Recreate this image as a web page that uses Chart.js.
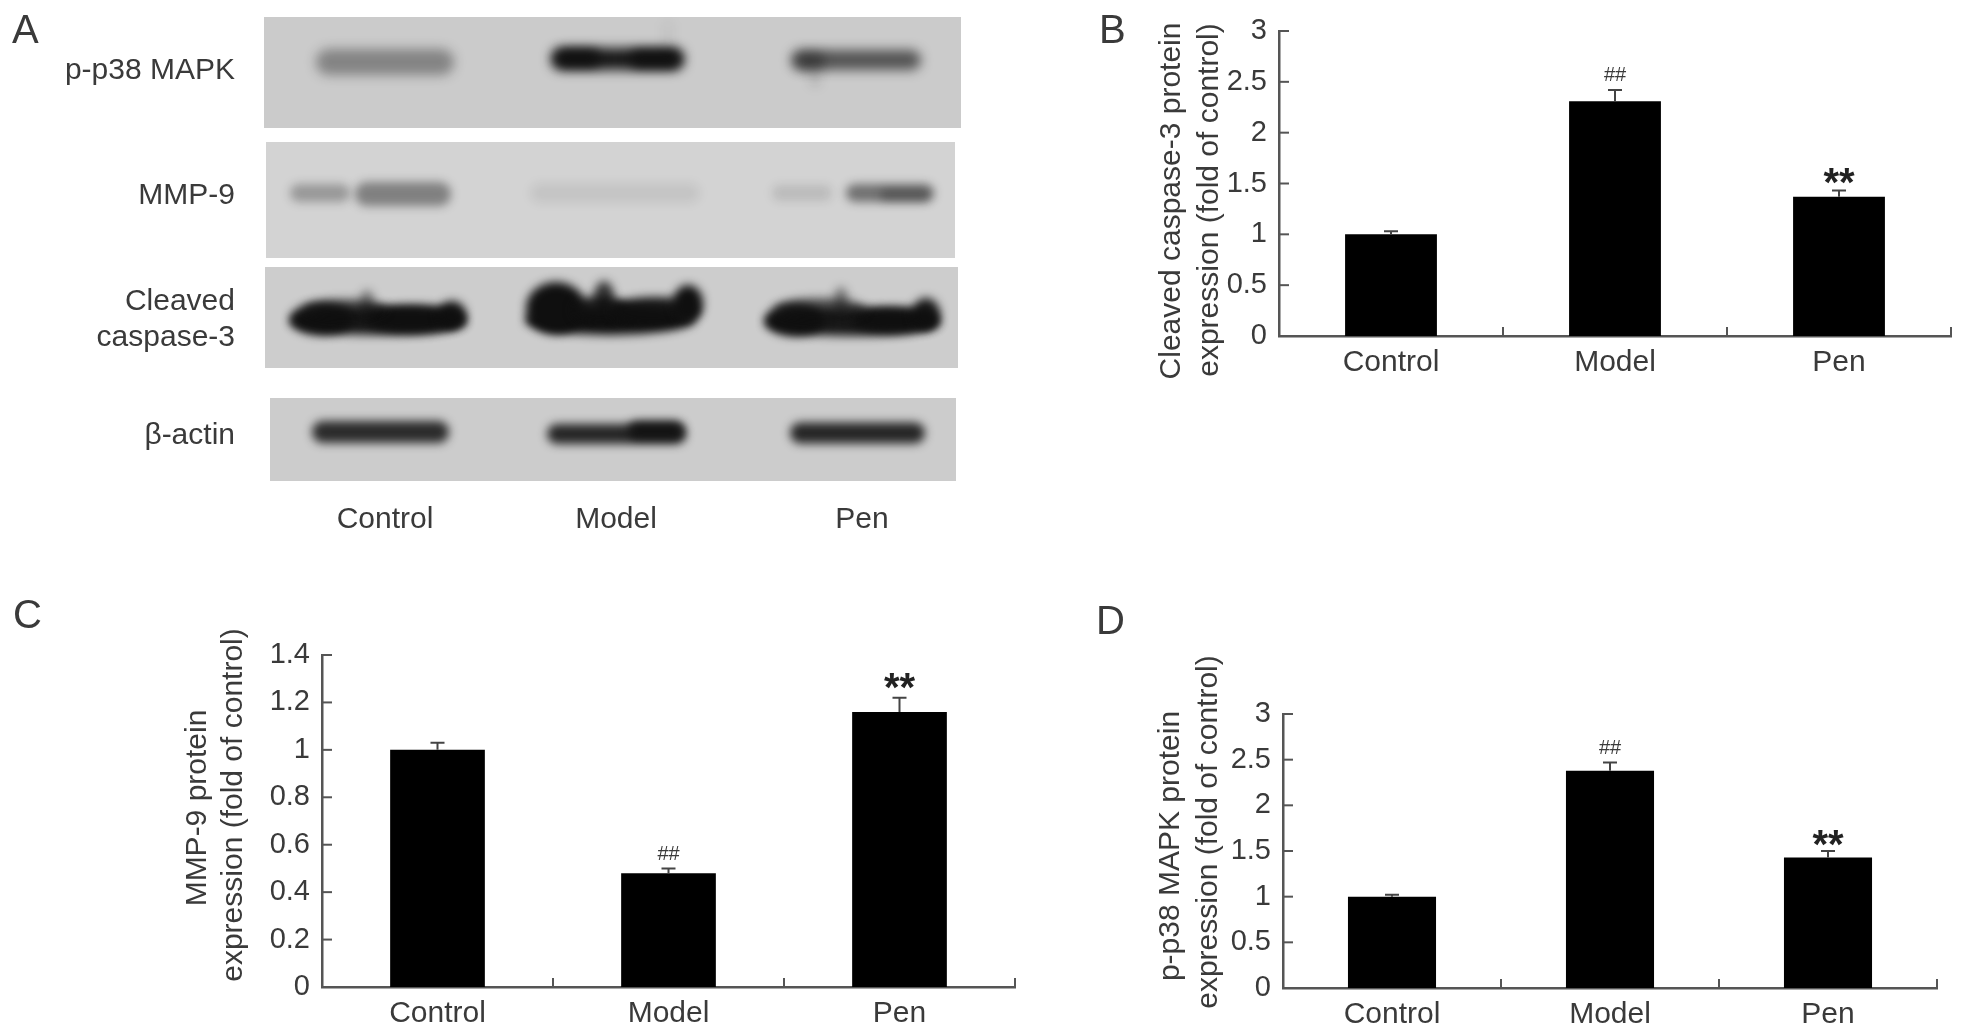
<!DOCTYPE html>
<html>
<head>
<meta charset="utf-8">
<title>Western blot and protein expression</title>
<script src="https://cdn.jsdelivr.net/npm/chart.js@4/dist/chart.umd.min.js"></script>
<style>
  html, body { margin: 0; padding: 0; background: #fff; width: 1968px; height: 1036px; overflow: hidden; }
  canvas { position: absolute; filter: blur(0.6px); }
  .txt { position: absolute; font-family: "Liberation Sans", Arial, sans-serif; font-size: 30px; line-height: 34px; color: #3a3a3a; white-space: nowrap; filter: blur(0.4px); }
  .letter { font-size: 40px; line-height: 40px; }
  .row { text-align: right; width: 220px; left: 15px; }
  .lane { transform: translateX(-50%); }
</style>
</head>
<body>
<canvas id="blotCanvas" width="720" height="490" style="left:250px;top:5px"></canvas>
<canvas id="chartB" width="838" height="400" style="left:1130px;top:0"></canvas>
<canvas id="chartC" width="880" height="436" style="left:160px;top:600px"></canvas>
<canvas id="chartD" width="838" height="396" style="left:1130px;top:640px"></canvas>

<div class="txt letter" style="left:12px;top:9px">A</div>
<div class="txt letter" style="left:1099px;top:9px">B</div>
<div class="txt letter" style="left:13px;top:594px">C</div>
<div class="txt letter" style="left:1096px;top:600px">D</div>

<div class="txt row" style="top:52px">p-p38 MAPK</div>
<div class="txt row" style="top:177px">MMP-9</div>
<div class="txt row" style="top:283px">Cleaved</div>
<div class="txt row" style="top:319px">caspase-3</div>
<div class="txt row" style="top:417px">β-actin</div>
<div class="txt lane" style="left:385px;top:501px">Control</div>
<div class="txt lane" style="left:616px;top:501px">Model</div>
<div class="txt lane" style="left:862px;top:501px">Pen</div>

<script>
// -------- Data --------
const categories = ['Control', 'Model', 'Pen'];

const caspaseValues = [1.0, 2.31, 1.37];
const caspaseErrors = [0.03, 0.11, 0.06];
const caspaseTicks = [0, 0.5, 1, 1.5, 2, 2.5, 3];
const caspaseTitle = ['Cleaved caspase-3 protein', 'expression (fold of control)'];

const mmp9Values = [1.0, 0.48, 1.16];
const mmp9Errors = [0.03, 0.02, 0.06];
const mmp9Ticks = [0, 0.2, 0.4, 0.6, 0.8, 1, 1.2, 1.4];
const mmp9Title = ['MMP-9 protein', 'expression (fold of control)'];

const p38Values = [1.0, 2.38, 1.43];
const p38Errors = [0.02, 0.09, 0.07];
const p38Ticks = [0, 0.5, 1, 1.5, 2, 2.5, 3];
const p38Title = ['p-p38 MAPK protein', 'expression (fold of control)'];

const significance = ['', '##', '**'];

// band darkness per lane (Control, Model, Pen), read from the blot
const p38Bands = [0.38, 0.95, 0.8];
const mmp9Bands = [0.30, 0.07, 0.50];
const caspaseBands = [0.95, 1.0, 0.95];
const actinBands = [0.85, 0.88, 0.88];

const TEXT_COLOR = '#3a3a3a';
const AXIS_COLOR = '#555';
Chart.defaults.font.family = '"Liberation Sans", Arial, sans-serif';

// -------- Ticks, error bars, marks and axis titles --------
const panelExtras = {
    id: 'panelExtras',
    afterDraw(chart, args, opts) {
        const { ctx } = chart;
        const x = chart.scales.x;
        const y = chart.scales.y;

        ctx.save();
        ctx.strokeStyle = AXIS_COLOR;
        ctx.lineWidth = 2;
        // inward ticks on the y axis
        y.ticks.forEach(t => {
            const py = y.getPixelForValue(t.value);
            ctx.beginPath();
            ctx.moveTo(x.left, py);
            ctx.lineTo(x.left + 10, py);
            ctx.stroke();
        });
        // category boundaries on the x axis
        categories.forEach((c, i) => {
            const px = x.getPixelForValue(i + 0.5);
            ctx.beginPath();
            ctx.moveTo(px, y.bottom);
            ctx.lineTo(px, y.bottom - 9);
            ctx.stroke();
        });
        // error bars and significance marks
        opts.values.forEach((v, i) => {
            const px = x.getPixelForValue(i);
            const top = y.getPixelForValue(v + opts.errors[i]);
            ctx.strokeStyle = '#444';
            ctx.beginPath();
            ctx.moveTo(px, y.getPixelForValue(v));
            ctx.lineTo(px, top);
            ctx.moveTo(px - 7, top);
            ctx.lineTo(px + 7, top);
            ctx.stroke();

            ctx.textAlign = 'center';
            if (significance[i] === '##') {
                ctx.fillStyle = '#3a3a3a';
                ctx.font = '20px "Liberation Sans"';
                ctx.textBaseline = 'middle';
                ctx.fillText('##', px, top - 14);
            } else if (significance[i] === '**') {
                ctx.fillStyle = '#222';
                ctx.font = 'bold 40px "Liberation Sans"';
                ctx.textBaseline = 'alphabetic';
                ctx.fillText('**', px, top + opts.starShift);
            }
        });
        // axis title, two lines
        ctx.fillStyle = TEXT_COLOR;
        ctx.font = '30px "Liberation Sans"';
        ctx.textAlign = 'center';
        ctx.textBaseline = 'middle';
        opts.title.forEach((line, i) => {
            ctx.save();
            ctx.translate(opts.titleX[i], opts.titleY[i]);
            ctx.rotate(-Math.PI / 2);
            ctx.fillText(line, 0, 0);
            ctx.restore();
        });
        ctx.restore();
    }
};

function makeBarChart(id, values, errors, ticks, title, box) {
    return new Chart(document.getElementById(id), {
        type: 'bar',
        data: {
            labels: categories,
            datasets: [{
                data: values,
                backgroundColor: '#000',
                barPercentage: box.barShare,
                categoryPercentage: 1
            }]
        },
        options: {
            responsive: false,
            animation: false,
            events: [],
            layout: { padding: { top: box.top, right: box.right, left: 0, bottom: 0 } },
            plugins: {
                legend: { display: false },
                tooltip: { enabled: false },
                panelExtras: {
                    values: values,
                    errors: errors,
                    title: title,
                    titleX: box.titleX,
                    titleY: box.titleY,
                    starShift: box.starShift
                }
            },
            scales: {
                x: {
                    grid: { display: false, drawTicks: false },
                    border: { display: true, color: AXIS_COLOR, width: 2.5 },
                    ticks: { color: TEXT_COLOR, font: { size: 30 }, padding: 9, maxRotation: 0, autoSkip: false },
                    afterFit: s => { s.height = box.xHeight; }
                },
                y: {
                    min: ticks[0],
                    max: ticks[ticks.length - 1],
                    grid: { display: false, drawTicks: false },
                    border: { display: true, color: AXIS_COLOR, width: 2.5 },
                    ticks: { color: TEXT_COLOR, font: { size: 29 }, padding: 12, callback: v => String(v) },
                    afterBuildTicks: s => { s.ticks = ticks.map(value => ({ value })); },
                    afterFit: s => { s.width = box.yWidth; }
                }
            }
        },
        plugins: [panelExtras]
    });
}

makeBarChart('chartB', caspaseValues, caspaseErrors, caspaseTicks, caspaseTitle, {
    top: 31, right: 17, yWidth: 149, xHeight: 64, barShare: 0.41, titleX: [42, 80], titleY: [201, 200], starShift: 5
});
makeBarChart('chartC', mmp9Values, mmp9Errors, mmp9Ticks, mmp9Title, {
    top: 55, right: 25, yWidth: 162, xHeight: 49, barShare: 0.41, titleX: [38, 74], titleY: [208, 205], starShift: 3
});
makeBarChart('chartD', p38Values, p38Errors, p38Ticks, p38Title, {
    top: 74, right: 31, yWidth: 153, xHeight: 48, barShare: 0.404, titleX: [41, 79], titleY: [206, 192], starShift: 7
});

// -------- Panel A, the blot image --------
function drawBlots() {
    const ctx = document.getElementById('blotCanvas').getContext('2d');
    ctx.translate(-250, -5);

    const blob = (x0, x1, cy, h, alpha) => {
        ctx.fillStyle = `rgba(15,15,15,${alpha})`;
        ctx.beginPath();
        ctx.roundRect(x0, cy - h / 2, x1 - x0, h, h / 2);
        ctx.fill();
    };
    const oval = (cx, cy, rx, ry, alpha) => {
        ctx.fillStyle = `rgba(15,15,15,${alpha})`;
        ctx.beginPath();
        ctx.ellipse(cx, cy, rx, ry, 0, 0, Math.PI * 2);
        ctx.fill();
    };
    const panel = (x, y, w, h, bg, blur, drawBands) => {
        ctx.fillStyle = bg;
        ctx.fillRect(x, y, w, h);
        ctx.save();
        ctx.beginPath();
        ctx.rect(x, y, w, h);
        ctx.clip();
        ctx.filter = `blur(${blur}px)`;
        drawBands();
        ctx.restore();
    };

    panel(264, 17, 697, 111, '#cbcbcb', 6, () => {
        blob(316, 454, 62, 26, p38Bands[0]);
        blob(551, 684, 59, 22, p38Bands[1]);
        blob(556, 600, 58, 16, p38Bands[1]);
        blob(630, 680, 59, 16, p38Bands[1]);
        blob(664, 672, 35, 28, 0.06);
        blob(791, 921, 60, 20, p38Bands[2] * 0.8);
        blob(795, 825, 61, 18, p38Bands[2] * 0.5);
        oval(815, 78, 4, 8, 0.2);
    });
    panel(266, 142, 689, 116, '#d3d3d3', 5, () => {
        blob(290, 350, 193, 18, mmp9Bands[0]);
        blob(355, 451, 194, 24, mmp9Bands[0] + 0.12);
        blob(530, 700, 193, 20, mmp9Bands[1]);
        blob(772, 832, 193, 16, mmp9Bands[1] + 0.05);
        blob(846, 934, 193, 18, mmp9Bands[2]);
        blob(880, 930, 195, 12, mmp9Bands[2] * 0.6);
    });
    panel(265, 267, 693, 101, '#cdcdcd', 5, () => {
        // lane 1
        oval(378, 321, 88, 14, caspaseBands[0]);
        oval(322, 319, 32, 16, caspaseBands[0]);
        oval(415, 319, 50, 14, caspaseBands[0]);
        oval(452, 315, 14, 14, caspaseBands[0]);
        oval(345, 309, 42, 10, 0.65);
        oval(367, 302, 7, 12, 0.45);
        // lane 2
        oval(610, 320, 85, 15, caspaseBands[1]);
        oval(556, 308, 30, 26, caspaseBands[1]);
        oval(604, 297, 10, 16, 0.8);
        oval(600, 310, 28, 14, 0.85);
        oval(655, 311, 45, 14, 0.95);
        oval(688, 303, 15, 18, caspaseBands[1]);
        // lane 3
        oval(852, 322, 87, 14, caspaseBands[2]);
        oval(795, 320, 30, 16, caspaseBands[2]);
        oval(895, 320, 44, 13, caspaseBands[2]);
        oval(926, 314, 14, 16, caspaseBands[2]);
        oval(820, 309, 46, 11, 0.65);
        oval(841, 299, 7, 12, 0.45);
    });
    panel(270, 398, 686, 83, '#cccccc', 5, () => {
        blob(312, 449, 432, 22, actinBands[0]);
        blob(547, 686, 434, 20, actinBands[1]);
        blob(628, 684, 430, 18, actinBands[1]);
        blob(790, 925, 433, 21, actinBands[2]);
    });
}
drawBlots();
</script>
</body>
</html>
